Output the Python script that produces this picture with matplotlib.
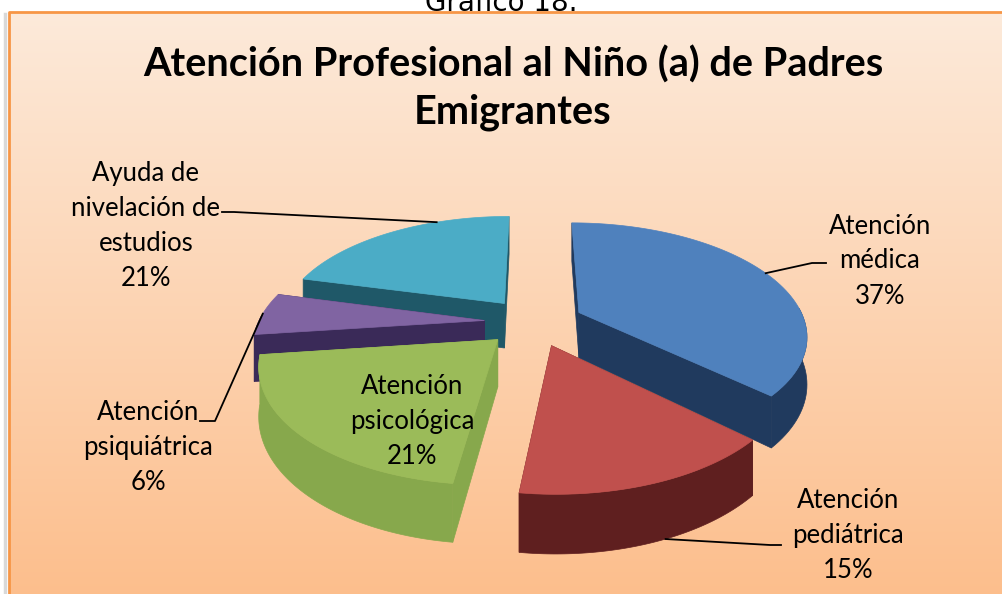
import numpy as np
import matplotlib.pyplot as plt
from matplotlib.patches import Polygon

categories = ["Atención médica", "Atención pediátrica", "Atención psicológica",
              "Atención psiquiátrica", "Ayuda de nivelación de estudios"]
values = [37, 15, 21, 6, 21]
label_texts = ["Atención\nmédica\n37%", "Atención\npediátrica\n15%",
               "Atención\npsicológica\n21%", "Atención\npsiquiátrica\n6%",
               "Ayuda de\nnivelación de\nestudios\n21%"]
top_colors = ["#4f81bd", "#c0504d", "#9bbb59", "#8064a2", "#4bacc6"]
side_colors = ["#203a5e", "#5f1f1f", "#87a84c", "#3a2a58", "#1f5868"]

FONT = "Lato"

# pie geometry in pixels (axes are in pixel units)
CX, CY = 534, 322
RX, RY = 226, 110
K = 0.19       # perspective strength
EXPLODE = 0.22
DEPTH = 46


def proj(u, v, h=0.0):
    s = 1.0 / (1.0 - K * np.asarray(v))
    return CX + np.asarray(u) * RX * s, CY + (np.asarray(v) * RY + h * DEPTH) * s


fig = plt.figure(figsize=(10.03, 5.94), dpi=100)
ax = fig.add_axes([0, 0, 1, 1])
ax.set_xlim(0, 1003)
ax.set_ylim(594, 0)
ax.axis("off")

# chart area background gradient
top = np.array([253, 234, 218]) / 255
bot = np.array([252, 190, 140]) / 255
t = np.linspace(0, 1, 256)[:, None, None]
grad = top * (1 - t) + bot * t
ax.imshow(grad, extent=(9, 1010, 600, 12), aspect="auto", zorder=0)
ax.plot([5.5, 5.5], [14, 600], color="#d9d9d9", lw=2.5, zorder=1)
ax.plot([9, 9, 1010], [600, 12, 12], color="#f79646", lw=2, zorder=2)

ax.text(501, 11, "Gráfico 18.", ha="center", va="baseline", fontsize=20,
        family="DejaVu Sans", zorder=3)
ax.text(513, 88, "Atención Profesional al Niño (a) de Padres\nEmigrantes",
        ha="center", va="center", fontsize=28.5, fontweight="bold", family=FONT,
        linespacing=1.32, zorder=3)

# slices, angles clockwise from top
fracs = np.array(values) / sum(values)
edges = np.concatenate([[0], np.cumsum(fracs)]) * 360
slices = []
for i in range(len(values)):
    a1, a2 = edges[i], edges[i + 1]
    mid = np.radians((a1 + a2) / 2)
    du, dv = EXPLODE * np.sin(mid), -EXPLODE * np.cos(mid)
    slices.append((dv, i, a1, a2, du))

anchors = {}
for rank, (dv, i, a1, a2, du) in enumerate(sorted(slices)):
    z = 4 + 0.1 * rank
    tt = np.radians(np.linspace(a1, a2, 80))
    ru, rv = du + np.sin(tt), dv - np.cos(tt)
    # radial side faces
    for a in (a1, a2):
        ua, va = du + np.sin(np.radians(a)), dv - np.cos(np.radians(a))
        pts = [proj(du, dv, 0), proj(ua, va, 0), proj(ua, va, 1), proj(du, dv, 1)]
        ax.add_patch(Polygon(np.array(pts), closed=True, fc=side_colors[i],
                             ec=side_colors[i], lw=0.5, zorder=z))
    # outer wall (front facing part)
    front = np.cos(tt) < 0.05
    if front.any():
        fu, fv = ru[front], rv[front]
        xt, yt = proj(fu, fv, 0)
        xb, yb = proj(fu, fv, 1)
        wall = np.column_stack([np.concatenate([xt, xb[::-1]]),
                                np.concatenate([yt, yb[::-1]])])
        ax.add_patch(Polygon(wall, closed=True, fc=side_colors[i],
                             ec=side_colors[i], lw=0.5, zorder=z))
    # top face
    xs, ys = proj(np.concatenate([[du], ru]), np.concatenate([[dv], rv]), 0)
    ax.add_patch(Polygon(np.column_stack([xs, ys]), closed=True,
                         fc=top_colors[i], ec=top_colors[i], lw=0.5, zorder=z + 0.01))
    anchors[i] = (du, dv, a1, a2)


def rim_point(i, frac, h=0.0):
    du, dv, a1, a2 = anchors[i]
    a = np.radians(a1 + (a2 - a1) * frac)
    return proj(du + np.sin(a), dv - np.cos(a), h)


lab = dict(fontsize=18.5, family=FONT, ha="center", va="center",
           linespacing=1.5, zorder=6)
ax.text(880, 261, label_texts[0], **lab)
ax.text(848, 536, label_texts[1], **lab)
ax.text(412, 422, label_texts[2], **lab)
ax.text(148, 448, label_texts[3], **lab)
ax.text(146, 226, label_texts[4], **lab)

lk = dict(color="black", lw=1.3, zorder=6)
bx, by = rim_point(0, 0.5)
ax.plot([bx, 812, 826], [by, 263, 263], **lk)
rx_, ry_ = rim_point(1, 0.45, 1)
ax.plot([rx_, 770, 781], [ry_, 545, 545], **lk)
px, py = rim_point(3, 0.5)
ax.plot([px, 215, 200], [py, 421, 421], **lk)
cx_, cy_ = rim_point(4, 0.7)
ax.plot([cx_, 234, 222], [cy_, 212, 212], **lk)

fig.savefig("out.png", dpi=100)
